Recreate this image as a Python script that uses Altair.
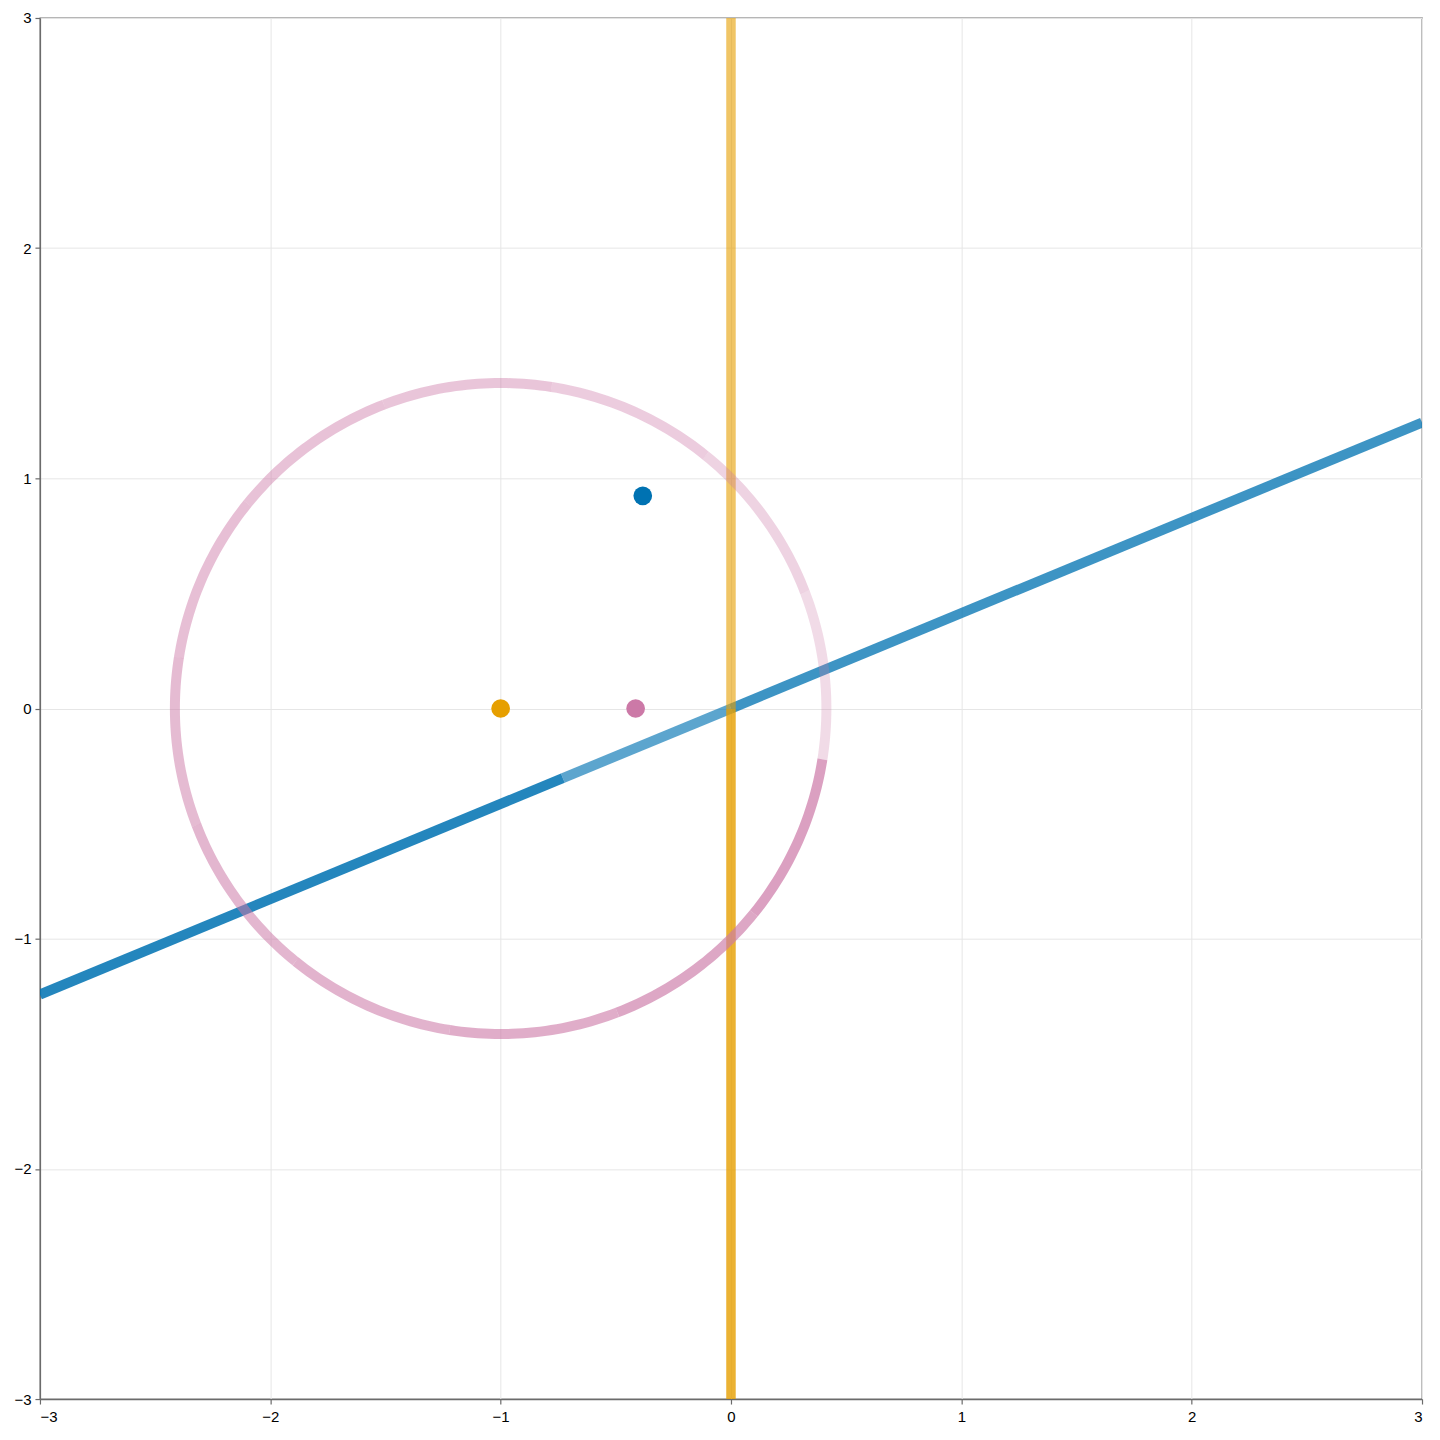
import altair as alt
import pandas as pd
import numpy as np

# ---- data ----
ticks = [-3, -2, -1, 0, 1, 2, 3]

# blue line (through origin, slope ~0.414) as segments with their opacities
blue_x = [-3.0, -0.73, 0.0, 3.0]
blue_y = [-1.2426, -0.3024, 0.0, 1.2426]
blue_alpha = [0.86, 0.64, 0.76]

# orange vertical line x=0 as segments
orange_x = [0.0, 0.0, 0.0]
orange_y = [-3.0, 0.0, 3.0]
orange_alpha = [0.80, 0.60]

# circle: centre, radius, arc boundaries (deg) and arc opacities
circle_center = (-1.0, 0.0)
circle_radius = 1.4142
arc_start_deg = [-9, -39, -69, -99, -129, -159, -189, -219, -249, -279, -309, -339]
arc_end_deg = [-39, -69, -99, -129, -159, -189, -219, -249, -279, -309, -339, -369]
arc_alpha = [0.71, 0.66, 0.61, 0.57, 0.54, 0.51, 0.48, 0.46, 0.43, 0.38, 0.33, 0.27]

# points
pt_x = [-0.383, -1.0, -0.414]
pt_y = [0.924, 0.0, 0.0]
pt_color = ["#0072B2", "#E69F00", "#CC79A7"]

BLUE = "#0072B2"
ORANGE = "#E69F00"
PINK = "#CC79A7"

# ---- build tables ----
rows = []
for k in range(len(blue_alpha)):
    for j, idx in enumerate([k, k + 1]):
        rows.append(dict(seg=f"b{k}", i=j, x=blue_x[idx], y=blue_y[idx], a=blue_alpha[k], c=BLUE))
blue_df = pd.DataFrame(rows)

rows = []
for k in range(len(orange_alpha)):
    for j, idx in enumerate([k, k + 1]):
        rows.append(dict(seg=f"o{k}", i=j, x=orange_x[idx], y=orange_y[idx], a=orange_alpha[k], c=ORANGE))
orange_df = pd.DataFrame(rows)

rows = []
cx, cy = circle_center
for k, (s, e, a) in enumerate(zip(arc_start_deg, arc_end_deg, arc_alpha)):
    angs = np.linspace(s, e, 31)
    for j, t in enumerate(angs):
        r = np.deg2rad(t)
        rows.append(dict(seg=f"c{k:02d}", i=j, x=cx + circle_radius * np.cos(r),
                         y=cy + circle_radius * np.sin(r), a=a, c=PINK))
circle_df = pd.DataFrame(rows)

pts_df = pd.DataFrame(dict(x=pt_x, y=pt_y, c=pt_color))

xscale = alt.Scale(domain=[-3, 3], nice=False, zero=False)
yscale = alt.Scale(domain=[-3, 3], nice=False, zero=False)
common_axis = dict(
    values=ticks, title=None, grid=True, format="d",
    domainColor="#6b6b6b", domainWidth=1.3,
    tickColor="#6b6b6b", tickSize=5, tickWidth=1.2,
    gridColor="#e6e6e6", gridWidth=1,
    labelFont="Liberation Sans", labelFontSize=15, labelColor="#000000",
)
xaxis = alt.Axis(labelPadding=5, **common_axis)
yaxis = alt.Axis(labelPadding=4, **common_axis)


def line_layer(df, width):
    return alt.Chart(df).mark_line(strokeWidth=width, strokeCap="butt", clip=True).encode(
        x=alt.X("x:Q", scale=xscale, axis=xaxis),
        y=alt.Y("y:Q", scale=yscale, axis=yaxis),
        detail="seg:N",
        order="i:Q",
        color=alt.Color("c:N", scale=None),
        opacity=alt.Opacity("a:Q", scale=None),
    )


blue = line_layer(blue_df, 10)
orange = line_layer(orange_df, 9.5)
circle = line_layer(circle_df, 10)

points = alt.Chart(pts_df).mark_circle(size=350, opacity=1).encode(
    x=alt.X("x:Q", scale=xscale, axis=xaxis),
    y=alt.Y("y:Q", scale=yscale, axis=yaxis),
    color=alt.Color("c:N", scale=None),
)

chart = alt.layer(blue, orange, circle, points).properties(
    width=1384,
    height=1383,
    autosize=alt.AutoSizeParams(type="none"),
    padding={"left": 32, "top": 9, "right": 10, "bottom": 30},
).configure_view(
    stroke="#6b6b6b", strokeWidth=1.3
)

chart.save("out.html", embed_options={"renderer": "svg", "actions": False})
